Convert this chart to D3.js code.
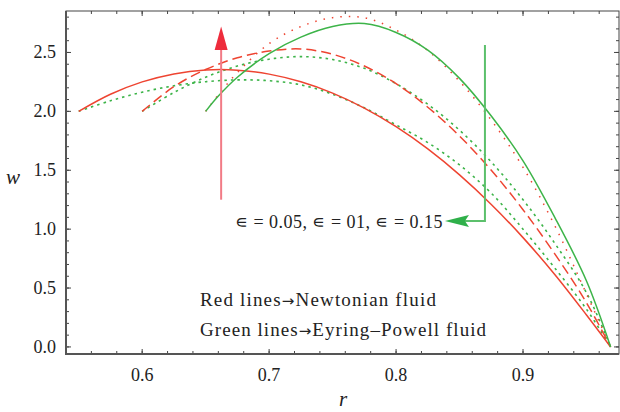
<!DOCTYPE html>
<html>
<head>
<meta charset="utf-8">
<script src="https://cdn.jsdelivr.net/npm/d3@7"></script>
<style>
  body { margin: 0; background: #fff; }
  text { font-family: "Liberation Serif", "DejaVu Serif", serif; fill: #222; }
</style>
</head>
<body>
<div id="chart"></div>
<script>
// radial positions and velocities
var rA = [0.55, 0.575, 0.60, 0.625, 0.65, 0.675, 0.70, 0.725, 0.75, 0.775, 0.80, 0.825, 0.85, 0.875, 0.90, 0.925, 0.95, 0.969];
var rB = [0.60, 0.625, 0.65, 0.675, 0.70, 0.725, 0.75, 0.775, 0.80, 0.825, 0.85, 0.875, 0.90, 0.925, 0.95, 0.969];
var rC = [0.65, 0.66, 0.675, 0.70, 0.725, 0.75, 0.775, 0.80, 0.825, 0.85, 0.875, 0.90, 0.925, 0.95, 0.969];

// red = Newtonian, green = Eyring-Powell
var newtonA = [2.00, 2.145, 2.25, 2.318, 2.351, 2.35, 2.316, 2.251, 2.155, 2.028, 1.87, 1.681, 1.461, 1.21, 0.928, 0.615, 0.271, 0];
var eyringA = [2.00, 2.09, 2.163, 2.217, 2.252, 2.267, 2.26, 2.225, 2.145, 2.03, 1.885, 1.735, 1.545, 1.305, 1.00, 0.67, 0.32, 0];
var newtonB = [2.00, 2.21, 2.355, 2.455, 2.512, 2.53, 2.485, 2.385, 2.235, 2.035, 1.79, 1.50, 1.165, 0.79, 0.375, 0];
var eyringB = [2.00, 2.16, 2.29, 2.385, 2.443, 2.465, 2.44, 2.365, 2.235, 2.06, 1.84, 1.57, 1.25, 0.88, 0.46, 0];
var newtonC = [2.00, 2.14, 2.33, 2.575, 2.72, 2.795, 2.795, 2.69, 2.515, 2.255, 1.925, 1.525, 1.03, 0.45, 0];
var eyringC = [2.00, 2.13, 2.29, 2.49, 2.63, 2.72, 2.745, 2.67, 2.52, 2.28, 1.96, 1.58, 1.10, 0.56, 0];

var xTicks = [0.6, 0.7, 0.8, 0.9];
var yTicks = [0.0, 0.5, 1.0, 1.5, 2.0, 2.5];

var red = '#ee4431', green = '#3db449';

var width = 620, height = 412;
var padL = 66, padR = 619, padT = 11, padB = 354;

var x = d3.scaleLinear().domain([0.54, 0.9756]).range([padL, padR]);
var y = d3.scaleLinear().domain([-0.06, 2.852]).range([padB, padT]);

var svg = d3.select('#chart').append('svg')
  .attr('width', width)
  .attr('height', height);

// minor ticks
var xMinor = d3.range(0.54, 0.9756, 0.02);
var yMinor = d3.range(0, 2.85, 0.1);

var frame = svg.append('g');
frame.append('rect')
  .attr('x', padL).attr('y', padT)
  .attr('width', padR - padL).attr('height', padB - padT)
  .attr('fill', 'none').attr('stroke', '#444').attr('stroke-width', 1);

function tickLines(vals, len, horiz) {
  vals.forEach(function (v) {
    if (horiz) {
      var px = x(v);
      frame.append('line').attr('x1', px).attr('x2', px).attr('y1', padB).attr('y2', padB - len)
        .attr('stroke', '#444').attr('stroke-width', 1);
      frame.append('line').attr('x1', px).attr('x2', px).attr('y1', padT).attr('y2', padT + len)
        .attr('stroke', '#444').attr('stroke-width', 1);
    } else {
      var py = y(v);
      frame.append('line').attr('x1', padL).attr('x2', padL + len).attr('y1', py).attr('y2', py)
        .attr('stroke', '#444').attr('stroke-width', 1);
      frame.append('line').attr('x1', padR).attr('x2', padR - len).attr('y1', py).attr('y2', py)
        .attr('stroke', '#444').attr('stroke-width', 1);
    }
  });
}
tickLines(xMinor, 3, true);
tickLines(xTicks, 5, true);
tickLines(yMinor, 3, false);
tickLines(yTicks, 5, false);

// thicker left and bottom axis lines
frame.append('line').attr('x1', padL).attr('x2', padL).attr('y1', padT).attr('y2', padB + 1)
  .attr('stroke', '#555').attr('stroke-width', 2);
frame.append('line').attr('x1', padL - 1).attr('x2', padR).attr('y1', padB).attr('y2', padB)
  .attr('stroke', '#555').attr('stroke-width', 2);

svg.selectAll('.xlab').data(xTicks).enter().append('text')
  .attr('x', function (d) { return x(d); })
  .attr('y', 381)
  .attr('text-anchor', 'middle')
  .attr('font-size', 18)
  .text(function (d) { return d.toFixed(1); });

svg.selectAll('.ylab').data(yTicks).enter().append('text')
  .attr('x', 56)
  .attr('y', function (d) { return y(d) + 6; })
  .attr('text-anchor', 'end')
  .attr('font-size', 18)
  .text(function (d) { return d.toFixed(1); });

svg.append('text').attr('x', 13).attr('y', 184).attr('text-anchor', 'middle')
  .attr('font-size', 21).attr('font-style', 'italic').text('w');
svg.append('text').attr('x', 343).attr('y', 406).attr('text-anchor', 'middle')
  .attr('font-size', 21).attr('font-style', 'italic').text('r');

var line = d3.line()
  .x(function (d) { return x(d[0]); })
  .y(function (d) { return y(d[1]); })
  .curve(d3.curveCatmullRom.alpha(0.5));

var curves = [
  {r: rA, w: eyringA, color: green, dash: '2.5,4', width: 1.6},
  {r: rB, w: eyringB, color: green, dash: '2.5,4', width: 1.6},
  {r: rA, w: newtonA, color: red, dash: null, width: 1.5},
  {r: rB, w: newtonB, color: red, dash: '10,5', width: 1.5},
  {r: rC, w: newtonC, color: red, dash: '1.5,7', width: 1.5},
  {r: rC, w: eyringC, color: green, dash: null, width: 1.5}
];

svg.selectAll('.curve').data(curves).enter().append('path')
  .attr('d', function (c) { return line(d3.zip(c.r, c.w)); })
  .attr('fill', 'none')
  .attr('stroke', function (c) { return c.color; })
  .attr('stroke-width', function (c) { return c.width; })
  .attr('stroke-dasharray', function (c) { return c.dash; });

// red arrow (upwards)
var ax = x(0.6622);
svg.append('line').attr('x1', ax).attr('x2', ax).attr('y1', y(1.25)).attr('y2', y(2.55))
  .attr('stroke', '#f27b86').attr('stroke-width', 2);
svg.append('path')
  .attr('d', 'M' + ax + ',' + y(2.72) + 'L' + (ax - 6.5) + ',' + y(2.52) + 'L' + (ax + 6.5) + ',' + y(2.52) + 'Z')
  .attr('fill', '#ee2c3c');

// green bracket arrow (to the left)
var gx = x(0.870), gy = y(1.07);
var tip = x(0.8385);
svg.append('path')
  .attr('d', 'M' + gx + ',' + y(2.564) + 'L' + gx + ',' + gy + 'L' + (tip + 20) + ',' + gy)
  .attr('fill', 'none').attr('stroke', '#5cc06c').attr('stroke-width', 2);
svg.append('path')
  .attr('d', 'M' + tip + ',' + gy + 'L' + (tip + 24) + ',' + (gy - 6) + 'L' + (tip + 20) + ',' + gy + 'L' + (tip + 24) + ',' + (gy + 6) + 'Z')
  .attr('fill', '#2fb04a');

// stretch a text to a measured width with letter spacing
function fitWidth(t, target) {
  var n = t.text().length;
  var w = t.node().getComputedTextLength();
  t.attr('letter-spacing', ((target - w) / n).toFixed(2));
}

var eps = svg.append('text').attr('x', 235).attr('y', 228)
  .attr('font-size', 18)
  .text('\u220A = 0.05, \u220A = 01, \u220A = 0.15');
fitWidth(eps, 208);

var legend = [
  ['Red lines', 'Newtonian fluid', 306, 237],
  ['Green lines', 'Eyring\u2013Powell fluid', 336, 287]
];
legend.forEach(function (l) {
  var t = svg.append('text').attr('x', 200).attr('y', l[2]).attr('font-size', 19);
  t.append('tspan').text(l[0]);
  t.append('tspan').style('font-family', '"DejaVu Sans"').attr('font-size', 15).text('\u2192');
  t.append('tspan').text(l[1]);
  fitWidth(t, l[3]);
});
</script>
</body>
</html>
